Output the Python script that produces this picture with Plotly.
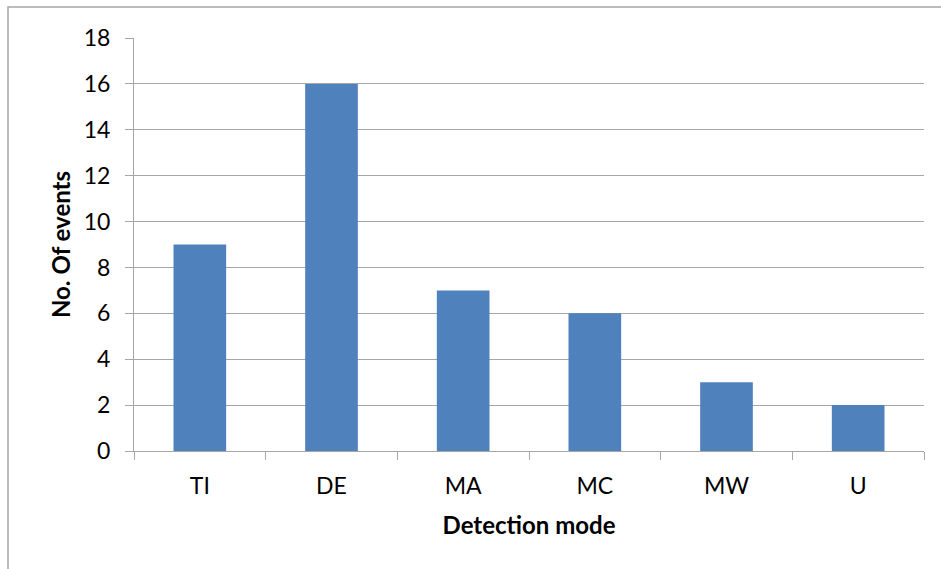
import plotly.graph_objects as go

categories = ["TI", "DE", "MA", "MC", "MW", "U"]
events = [9, 16, 7, 6, 3, 2]
y_ticks = [0, 2, 4, 6, 8, 10, 12, 14, 16, 18]

W, H = 941, 569
ML, MR, MT, MB = 134, 17, 38, 118
pw, ph = W - ML - MR, H - MT - MB

font_family = "Lato, 'Open Sans', sans-serif"
grid_col = "#A6A6A6"

fig = go.Figure(go.Bar(
    x=categories, y=events,
    marker=dict(color="#4F81BD", line=dict(width=0)),
))

fig.update_layout(
    width=W, height=H,
    margin=dict(l=ML, r=MR, t=MT, b=MB),
    plot_bgcolor="white", paper_bgcolor="white",
    bargap=0.6,
    showlegend=False,
    font=dict(family=font_family, size=23, color="black"),
)

fig.update_xaxes(
    type="category",
    showline=True, linecolor=grid_col, linewidth=1,
    ticks="outside", tickson="boundaries", ticklen=8, tickcolor=grid_col,
    tickfont=dict(size=23), ticklabelstandoff=14,
    title=dict(text="<b>Detection mode</b>", font=dict(size=24), standoff=19),
    showgrid=False,
)

fig.update_yaxes(
    range=[0, 18], tickvals=y_ticks,
    showline=True, linecolor=grid_col, linewidth=1,
    ticks="outside", ticklen=8, tickcolor=grid_col,
    showgrid=True, gridcolor=grid_col, gridwidth=1,
    tickfont=dict(size=23), ticklabelstandoff=10,
    title=dict(text="<b>No. Of events</b>", font=dict(size=24), standoff=6),
    zeroline=False,
)

# chart-area frame
fig.add_shape(
    type="rect", xref="paper", yref="paper",
    x0=(8 - ML) / pw, x1=(W + 5 - ML) / pw,
    y0=(H - MB - (H + 5)) / ph, y1=(H - MB - 7) / ph,
    line=dict(color="#A6A6A6", width=1.5), fillcolor="rgba(0,0,0,0)",
    layer="below",
)

fig.write_html("out.html")
